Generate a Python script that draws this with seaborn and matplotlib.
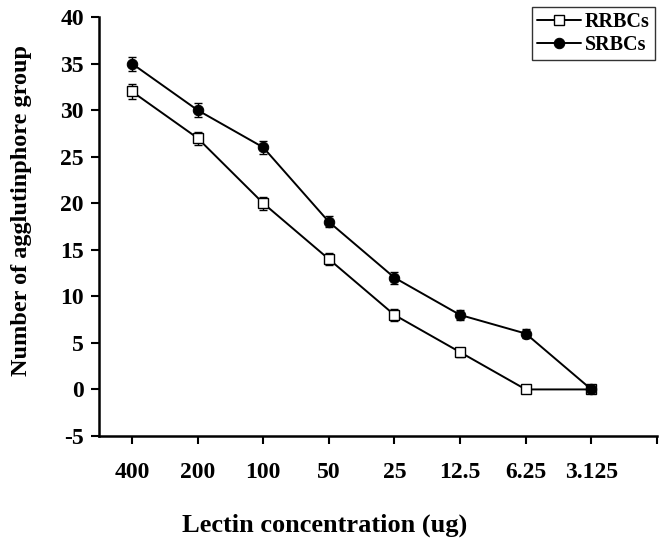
import matplotlib
matplotlib.use("Agg")
import matplotlib.pyplot as plt
import seaborn as sns
import numpy as np
import pandas as pd

concentrations = ["400", "200", "100", "50", "25", "12.5", "6.25", "3.125"]
rrbc = [32, 27, 20, 14, 8, 4, 0, 0]
rrbc_err = [0.8, 0.7, 0.7, 0.6, 0.6, 0.5, 0.0, 0.0]
srbc = [35, 30, 26, 18, 12, 8, 6, 0]
srbc_err = [0.75, 0.75, 0.7, 0.6, 0.65, 0.5, 0.5, 0.0]

sns.set_theme(style="ticks")
plt.rcParams['font.family'] = ['Liberation Serif', 'DejaVu Serif']
plt.rcParams['font.weight'] = 'bold'
plt.rcParams['text.color'] = 'black'
plt.rcParams['axes.labelcolor'] = 'black'
plt.rcParams['xtick.color'] = 'black'
plt.rcParams['ytick.color'] = 'black'
plt.rcParams['xtick.labelcolor'] = 'black'
plt.rcParams['ytick.labelcolor'] = 'black'

fig = plt.figure(figsize=(6.65, 5.5), dpi=100)
ax = fig.add_axes([0.149, 0.2073, 0.839, 0.7618])

pos = np.arange(len(concentrations))
df = pd.DataFrame({
    "x": np.concatenate([pos, pos]),
    "y": rrbc + srbc,
    "series": ["RRBCs"] * len(pos) + ["SRBCs"] * len(pos),
})

for vals, errs in [(rrbc, rrbc_err), (srbc, srbc_err)]:
    ax.errorbar(pos, vals, yerr=errs, fmt='none', ecolor='black', elinewidth=1.0,
                capsize=3, capthick=1.0, zorder=2)

sns.lineplot(data=df[df.series == "RRBCs"], x="x", y="y", ax=ax, color='black',
             marker='s', markersize=6.8, markerfacecolor='white', markeredgecolor='black',
             markeredgewidth=1.0, linewidth=1.4, label="RRBCs", zorder=3)
sns.lineplot(data=df[df.series == "SRBCs"], x="x", y="y", ax=ax, color='black',
             marker='o', markersize=7.5, markerfacecolor='black', markeredgecolor='black',
             linewidth=1.4, label="SRBCs", zorder=3)

ax.set_xlim(-0.5, 8.0)
ax.set_ylim(-5, 40)
ax.set_xticks(list(pos) + [8.0])
ax.set_xticklabels(concentrations + [""], fontsize=17, fontweight='bold', color='black')
ax.set_yticks(np.arange(-5, 41, 5))
ax.set_yticklabels([str(v) for v in range(-5, 41, 5)], fontsize=17, fontweight='bold', color='black')
ax.tick_params(axis='both', direction='out', length=6, width=1.5, colors='black', pad=5)
ax.tick_params(axis='x', pad=13)
for s in ['top', 'right']:
    ax.spines[s].set_visible(False)
for s in ['left', 'bottom']:
    ax.spines[s].set_linewidth(1.8)
    ax.spines[s].set_color('black')

ax.set_xlabel("")
ax.set_ylabel("")
fig.text(325 / 665, 1 - 525 / 550, "Lectin concentration (ug)", fontsize=19,
         fontweight='bold', ha='center', va='center', color='black')
fig.text(22 / 665, 1 - 210 / 550, "Number of agglutinphore group", fontsize=17.5,
         fontweight='bold', ha='center', va='center', rotation=90, color='black')

leg = ax.legend(loc='upper right', bbox_to_anchor=(0.985, 0.988), bbox_transform=fig.transFigure,
                frameon=True, fancybox=False, fontsize=14.5, handlelength=2.2,
                borderpad=0.25, labelspacing=0.15, handletextpad=0.2, borderaxespad=0)
leg.get_frame().set_edgecolor('black')
leg.get_frame().set_linewidth(1.0)
for t in leg.get_texts():
    t.set_fontweight('bold')
    t.set_color('black')

fig.savefig("out.png", dpi=100)
